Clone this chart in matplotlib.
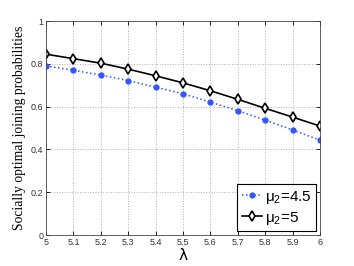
import matplotlib
matplotlib.use('Agg')
import matplotlib.pyplot as plt

lam = [5.0, 5.1, 5.2, 5.3, 5.4, 5.5, 5.6, 5.7, 5.8, 5.9, 6.0]
p_mu45 = [0.790, 0.770, 0.747, 0.722, 0.691, 0.660, 0.621, 0.581, 0.537, 0.491, 0.443]
p_mu5 = [0.845, 0.824, 0.803, 0.775, 0.744, 0.711, 0.674, 0.634, 0.592, 0.551, 0.509]
xticks = [5, 5.1, 5.2, 5.3, 5.4, 5.5, 5.6, 5.7, 5.8, 5.9, 6]
xticklabels = ['5', '5.1', '5.2', '5.3', '5.4', '5.5', '5.6', '5.7', '5.8', '5.9', '6']
yticks = [0, 0.2, 0.4, 0.6, 0.8, 1]
yticklabels = ['0', '0.2', '0.4', '0.6', '0.8', '1']

fig = plt.figure(figsize=(3.54, 2.66), dpi=100)
ax = fig.add_axes([0.130, 0.1165, 0.774, 0.8045])

ax.plot(lam, p_mu45, ':', color='#3355ff', marker='o', markersize=3.5,
        markeredgecolor='#3355ff', markerfacecolor='#3355ff', linewidth=1.1,
        label=r'$\mathregular{\mu_2}$=4.5')
ax.plot(lam, p_mu5, '-', color='black', marker='d', markersize=5,
        markerfacecolor='white', markeredgecolor='black', markeredgewidth=1.2,
        linewidth=1.2, label=r'$\mathregular{\mu_2}$=5')

ax.set_xlim(5, 6)
ax.set_ylim(0, 1)
ax.set_xticks(xticks)
ax.set_xticklabels(xticklabels, fontsize=6.5, family='Liberation Sans', color='#333333')
ax.set_yticks(yticks)
ax.set_yticklabels(yticklabels, fontsize=6.5, family='Liberation Sans', color='#333333')
ax.tick_params(direction='in', length=3, width=0.6, pad=2, top=True, right=True)
ax.grid(True, linestyle=':', color='#b0b0b0', linewidth=0.7)
for s in ax.spines.values():
    s.set_linewidth(0.6)
    s.set_color('#444444')

ax.set_xlabel(r'$\mathregular{\lambda}$', fontsize=11, labelpad=0)
ax.set_ylabel('Socially optimal joining probabilities', fontsize=9.8,
              family='Liberation Serif', labelpad=3)

leg = ax.legend(loc='lower right', prop={'family': 'Liberation Sans', 'size': 11},
                fancybox=False, framealpha=1, edgecolor='black',
                borderaxespad=0.25, handlelength=1.3, labelspacing=0.25,
                handletextpad=0.2, borderpad=0.3)
leg.get_frame().set_linewidth(0.8)

fig.savefig('out.png', dpi=100)
